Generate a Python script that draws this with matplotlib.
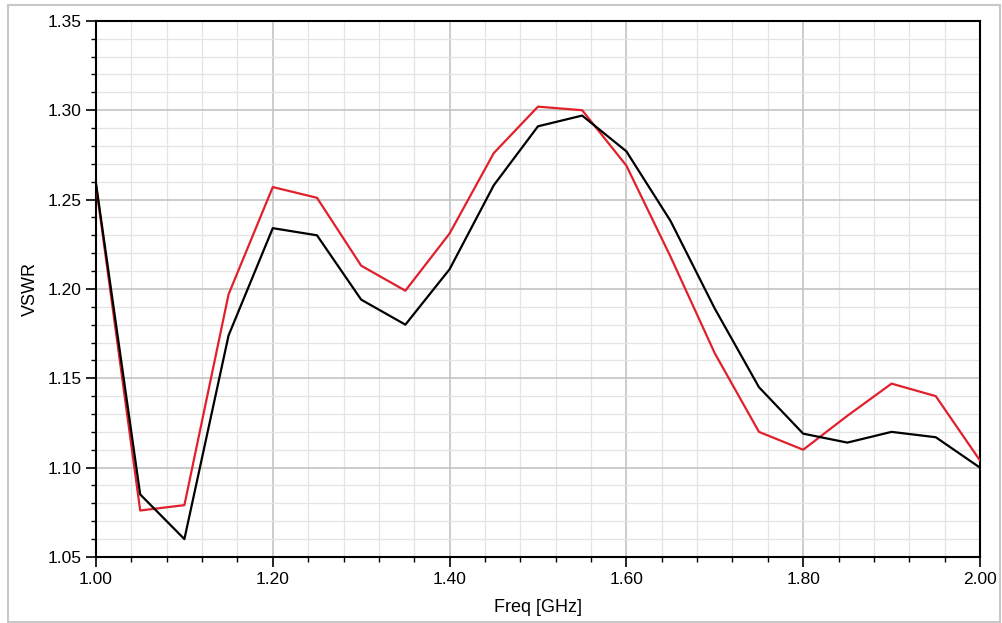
import matplotlib.pyplot as plt
import matplotlib.patches as mpatches
from matplotlib.ticker import MultipleLocator, FormatStrFormatter

plt.rcParams['font.family'] = ['Liberation Sans', 'DejaVu Sans']

freq = [1.00, 1.05, 1.10, 1.15, 1.20, 1.25, 1.30, 1.35, 1.40, 1.45, 1.50,
        1.55, 1.60, 1.65, 1.70, 1.75, 1.80, 1.85, 1.90, 1.95, 2.00]
vswr_black = [1.259, 1.085, 1.060, 1.174, 1.234, 1.230, 1.194, 1.180, 1.211, 1.258, 1.291,
              1.297, 1.277, 1.238, 1.189, 1.145, 1.119, 1.114, 1.120, 1.117, 1.100]
vswr_red = [1.258, 1.076, 1.079, 1.197, 1.257, 1.251, 1.213, 1.199, 1.231, 1.276, 1.302,
            1.300, 1.269, 1.218, 1.164, 1.120, 1.110, 1.129, 1.147, 1.140, 1.104]

fig = plt.figure(figsize=(10.02, 6.23), dpi=100)
ax = fig.add_axes([0.0958, 0.106, 0.8822, 0.8605])

# light frame around the whole picture
fig.patches.append(mpatches.Rectangle((0.008, 0.002), 0.99, 0.99, transform=fig.transFigure,
                                      fill=False, edgecolor='#c8c8c8', linewidth=1.5))

ax.plot(freq, vswr_red, color='#e0202a', linewidth=1.6, zorder=3)
ax.plot(freq, vswr_black, color='black', linewidth=1.6, zorder=4)

ax.set_xlim(1.0, 2.0)
ax.set_ylim(1.05, 1.35)
ax.xaxis.set_major_locator(MultipleLocator(0.2))
ax.xaxis.set_minor_locator(MultipleLocator(0.04))
ax.yaxis.set_major_locator(MultipleLocator(0.05))
ax.yaxis.set_minor_locator(MultipleLocator(0.01))
ax.xaxis.set_major_formatter(FormatStrFormatter('%.2f'))
ax.yaxis.set_major_formatter(FormatStrFormatter('%.2f'))

ax.grid(which='major', color='#c4c4c4', linewidth=1.2)
ax.grid(which='minor', color='#e4e4e4', linewidth=0.9)
ax.set_axisbelow(True)

ax.tick_params(which='major', length=7, width=1.2, labelsize=12.5, direction='out')
ax.tick_params(which='minor', length=3.5, width=1.0, direction='out')
for s in ax.spines.values():
    s.set_linewidth(1.5)

ax.set_xlabel('Freq [GHz]', fontsize=13, labelpad=9)
ax.set_ylabel('VSWR', fontsize=13, labelpad=6)

fig.savefig('out.png', dpi=100)
